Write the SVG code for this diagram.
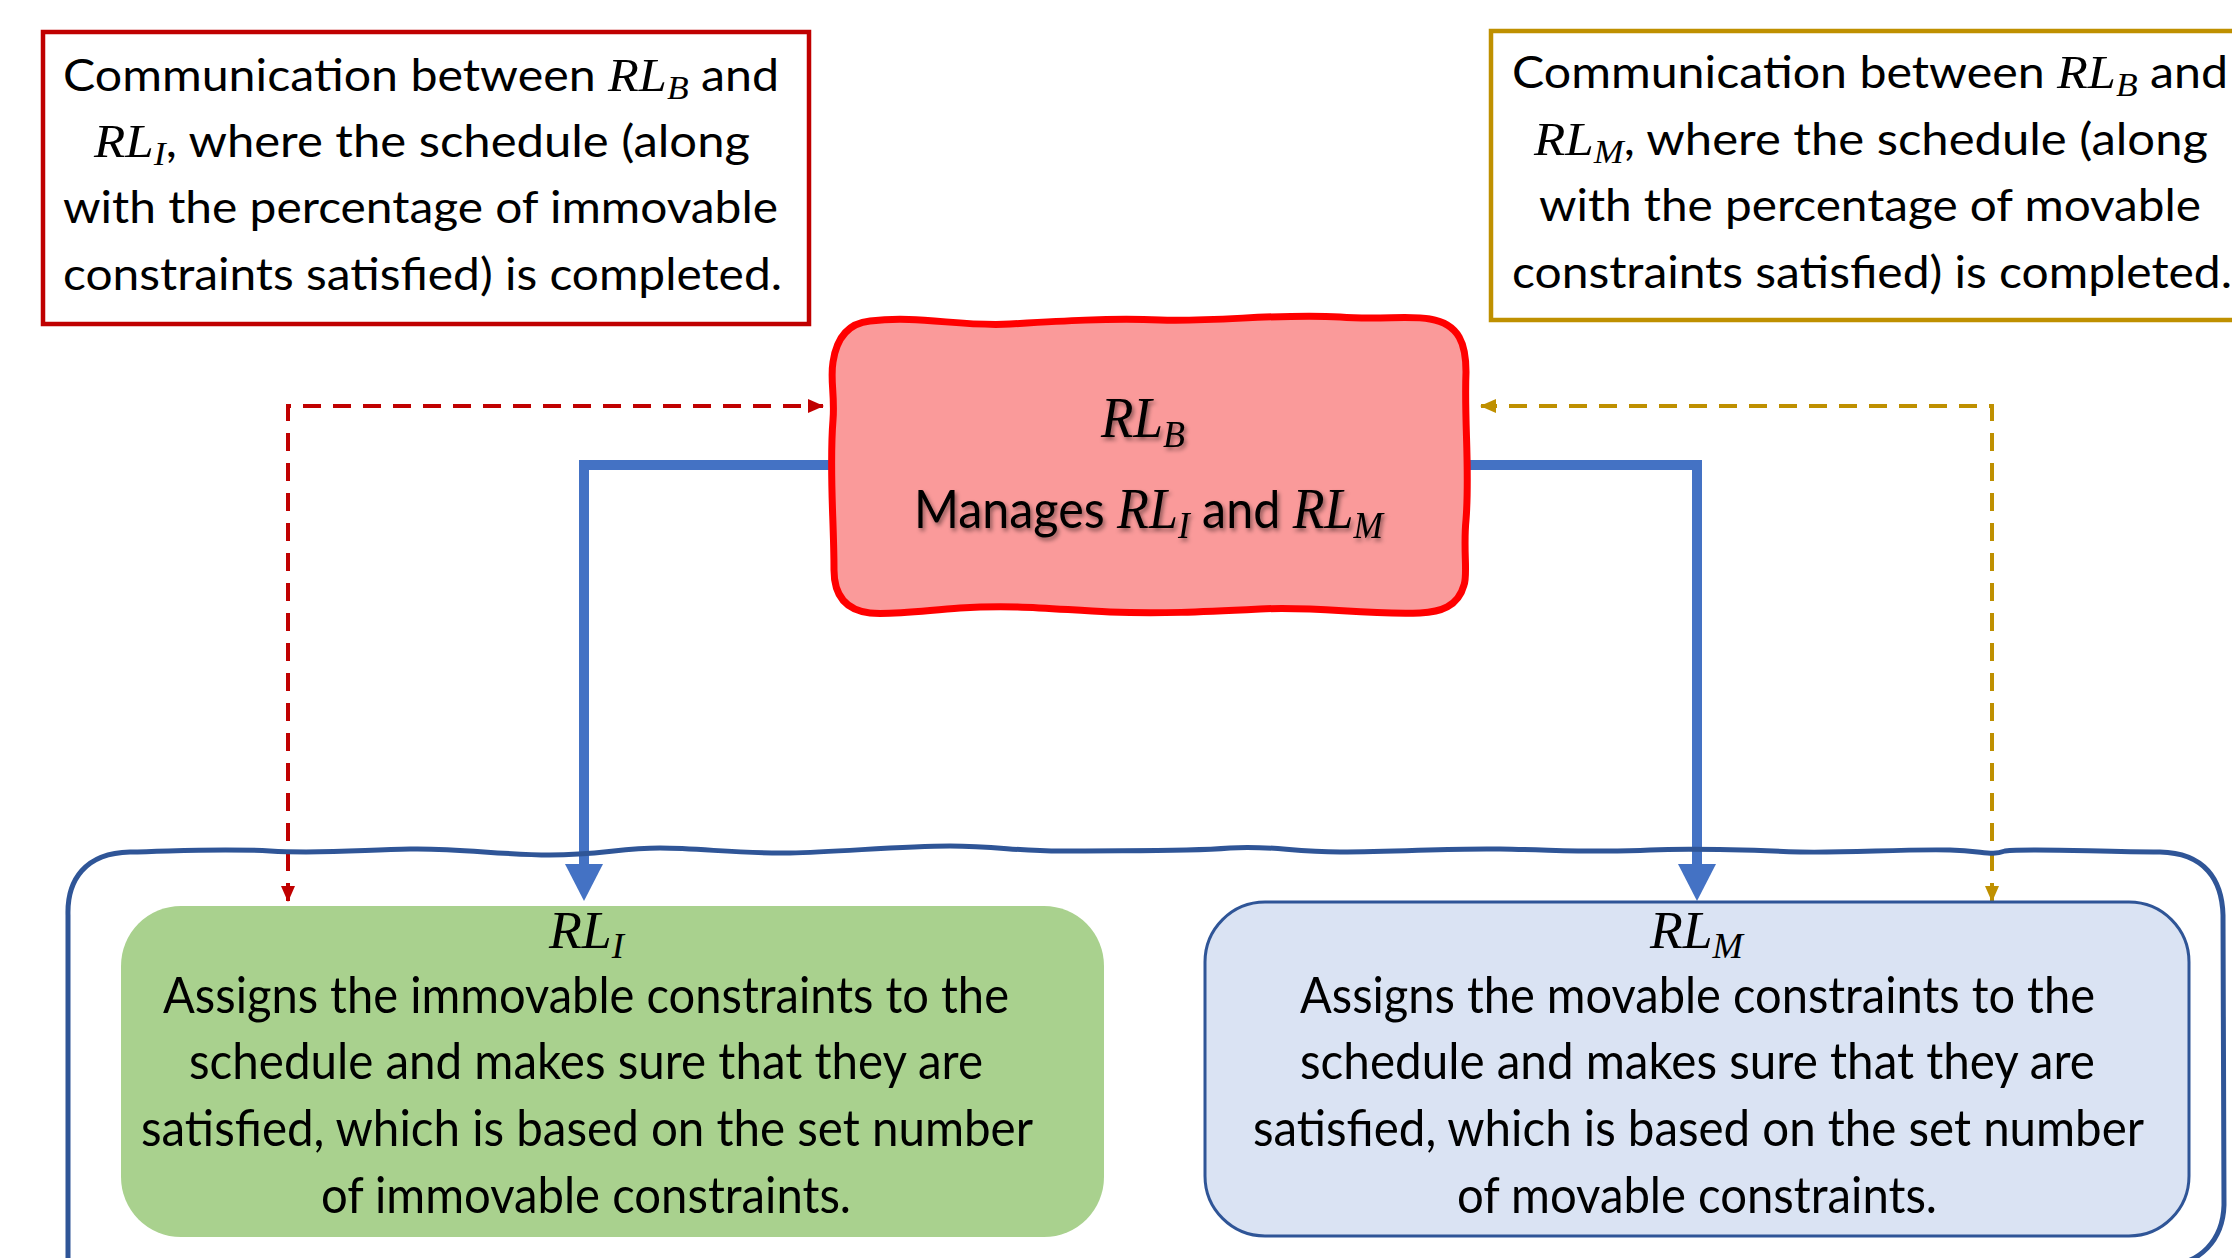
<svg xmlns="http://www.w3.org/2000/svg" width="2232" height="1258" viewBox="0 0 2232 1258">
<style>
.t{font-family:Lato,"Open Sans","Liberation Sans",sans-serif;fill:#000}
.m{font-family:"Liberation Serif",serif;font-style:italic}
.s{font-family:"Liberation Serif",serif;font-style:italic}
.note{fill:#fff;stroke-width:4.5}
</style>
<defs>
<marker id="arR" markerUnits="userSpaceOnUse" markerWidth="16" markerHeight="14" refX="15" refY="7" orient="auto-start-reverse"><path d="M0,0 L16,7 L0,14 Z" fill="#C00000"/></marker>
<marker id="arG" markerUnits="userSpaceOnUse" markerWidth="16" markerHeight="14" refX="15" refY="7" orient="auto-start-reverse"><path d="M0,0 L16,7 L0,14 Z" fill="#BF9000"/></marker>
<marker id="arB" markerUnits="userSpaceOnUse" markerWidth="38" markerHeight="38" refX="2" refY="19" orient="auto"><path d="M0,0 L37,19 L0,38 Z" fill="#4472C4"/></marker>
<filter id="sh" x="-10%" y="-30%" width="120%" height="160%"><feDropShadow dx="2" dy="3" stdDeviation="2" flood-color="#000" flood-opacity="0.45"/></filter>
</defs>

<g id="note-left">
<rect class="note" x="43" y="32" width="766" height="292" stroke="#C00000"/>
<text class="t" font-size="45" x="63" y="91" textLength="716" lengthAdjust="spacingAndGlyphs">Communication between <tspan class="m" font-size="47">RL</tspan><tspan class="s" font-size="33" dy="8">B</tspan><tspan dy="-8"> and</tspan></text>
<text class="t" font-size="45" x="94" y="157" textLength="656" lengthAdjust="spacingAndGlyphs"><tspan class="m" font-size="47">RL</tspan><tspan class="s" font-size="33" dy="8">I</tspan><tspan dy="-8">, where the schedule (along</tspan></text>
<text class="t" font-size="45" x="63" y="223" textLength="715" lengthAdjust="spacingAndGlyphs">with the percentage of immovable</text>
<text class="t" font-size="45" x="63" y="290" textLength="719" lengthAdjust="spacingAndGlyphs">constraints satisfied) is completed.</text>
</g>

<g id="note-right">
<rect class="note" x="1491" y="31" width="780" height="289" stroke="#BF9000"/>
<text class="t" font-size="45" x="1512" y="88" textLength="716" lengthAdjust="spacingAndGlyphs">Communication between <tspan class="m" font-size="47">RL</tspan><tspan class="s" font-size="33" dy="8">B</tspan><tspan dy="-8"> and</tspan></text>
<text class="t" font-size="45" x="1534" y="155" textLength="674" lengthAdjust="spacingAndGlyphs"><tspan class="m" font-size="47">RL</tspan><tspan class="s" font-size="33" dy="8">M</tspan><tspan dy="-8">, where the schedule (along</tspan></text>
<text class="t" font-size="45" x="1539" y="221" textLength="662" lengthAdjust="spacingAndGlyphs">with the percentage of movable</text>
<text class="t" font-size="45" x="1512" y="288" textLength="720" lengthAdjust="spacingAndGlyphs">constraints satisfied) is completed.</text>
</g>

<g id="connectors">
<path d="M584,465 L831,465" fill="none" stroke="#4472C4" stroke-width="10"/>
<path d="M584,460 L584,866" fill="none" stroke="#4472C4" stroke-width="10" marker-end="url(#arB)"/>
<path d="M1466,465 L1697,465" fill="none" stroke="#4472C4" stroke-width="10"/>
<path d="M1697,460 L1697,866" fill="none" stroke="#4472C4" stroke-width="10" marker-end="url(#arB)"/>
<path d="M288,901 L288,406 L823,406" fill="none" stroke="#C00000" stroke-width="4" stroke-dasharray="18 12" marker-start="url(#arR)" marker-end="url(#arR)"/>
<path d="M1992,901 L1992,406 L1481,406" fill="none" stroke="#BF9000" stroke-width="4" stroke-dasharray="18 12" marker-start="url(#arG)" marker-end="url(#arG)"/>
</g>

<g id="container">
<path d="M68,1265 L68,915 C67,880 85,853 130,852 C180,851 220,848 270,851 C320,854 360,850 410,849 C460,848 500,855 550,855 C600,855 620,848 660,848 C700,848 740,854 790,853 C840,852 900,846 950,846 C1000,846 1020,852 1070,851 C1120,850 1180,852 1230,848 C1270,845 1290,852 1340,852 C1400,852 1450,848 1500,849 C1560,850 1600,853 1650,850 C1700,848 1750,850 1800,852 C1850,853 1900,849 1950,850 C1985,851 1990,856 2005,851 C2030,848 2100,852 2160,852 C2205,853 2222,880 2223,915 L2224,1205 C2223,1240 2200,1265 2165,1265 Z" fill="none" stroke="#2F5597" stroke-width="5"/>
</g>

<g id="node-rlb">
<path d="M870,321 C920,315 960,327 1010,324 C1060,321 1110,318 1160,320 C1220,322 1280,313 1340,317 C1380,320 1410,315 1430,319 C1460,324 1466,345 1466,372 C1464,420 1470,470 1466,520 C1463,550 1468,575 1464,585 C1458,607 1440,612 1420,613 C1360,615 1320,606 1260,609 C1200,612 1160,614 1110,612 C1060,610 1020,604 960,608 C920,611 890,615 870,613 C845,610 834,595 834,570 C834,520 829,470 833,420 C835,395 830,380 833,362 C837,335 850,323 870,321 Z" fill="#FA9A9A" stroke="#FF0000" stroke-width="7"/>
<g filter="url(#sh)">
<text class="m" font-size="56" x="1101" y="437" textLength="84" lengthAdjust="spacingAndGlyphs">RL<tspan font-size="38" dy="10">B</tspan></text>
<text class="t" font-size="52" x="914" y="528" textLength="469" lengthAdjust="spacingAndGlyphs">Manages <tspan class="m" font-size="56">RL</tspan><tspan class="s" font-size="38" dy="10">I</tspan><tspan dy="-10"> and </tspan><tspan class="m" font-size="56">RL</tspan><tspan class="s" font-size="38" dy="10">M</tspan></text>
</g>
</g>

<g id="node-rli">
<rect x="121" y="906" width="983" height="331" rx="60" fill="#A9D18E"/>
<text class="m" font-size="53" x="549" y="948" textLength="75" lengthAdjust="spacingAndGlyphs">RL<tspan font-size="36" dy="10">I</tspan></text>
<text class="t" font-size="50" x="163" y="1013" textLength="846" lengthAdjust="spacingAndGlyphs">Assigns the immovable constraints to the</text>
<text class="t" font-size="50" x="189" y="1079" textLength="794" lengthAdjust="spacingAndGlyphs">schedule and makes sure that they are</text>
<text class="t" font-size="50" x="141" y="1146" textLength="892" lengthAdjust="spacingAndGlyphs">satisfied, which is based on the set number</text>
<text class="t" font-size="50" x="321" y="1213" textLength="530" lengthAdjust="spacingAndGlyphs">of immovable constraints.</text>
</g>

<g id="node-rlm">
<rect x="1205" y="902" width="984" height="334" rx="60" fill="#DAE3F3" stroke="#2F5597" stroke-width="3"/>
<text class="m" font-size="53" x="1650" y="948" textLength="93" lengthAdjust="spacingAndGlyphs">RL<tspan font-size="36" dy="10">M</tspan></text>
<text class="t" font-size="50" x="1300" y="1013" textLength="795" lengthAdjust="spacingAndGlyphs">Assigns the movable constraints to the</text>
<text class="t" font-size="50" x="1300" y="1079" textLength="795" lengthAdjust="spacingAndGlyphs">schedule and makes sure that they are</text>
<text class="t" font-size="50" x="1253" y="1146" textLength="891" lengthAdjust="spacingAndGlyphs">satisfied, which is based on the set number</text>
<text class="t" font-size="50" x="1457" y="1213" textLength="480" lengthAdjust="spacingAndGlyphs">of movable constraints.</text>
</g>
</svg>
